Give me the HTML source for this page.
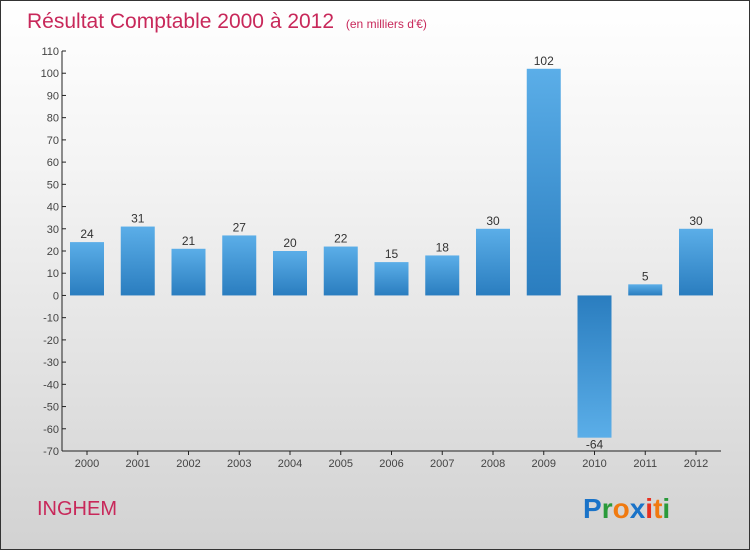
<!DOCTYPE html>
<html><head><meta charset="utf-8"><style>
body{margin:0}
#c{width:748px;height:548px;border:1px solid #333;background:linear-gradient(#ffffff,#f4f4f4 30%,#d2d2d2);position:relative;font-family:"Liberation Sans",sans-serif}
</style></head><body>
<div id="c">
<svg width="748" height="548" id="s">
<defs>
<linearGradient id="gp" x1="0" y1="0" x2="0" y2="1"><stop offset="0" stop-color="#5baee8"/><stop offset="1" stop-color="#2a7dbf"/></linearGradient>
<linearGradient id="gn" x1="0" y1="0" x2="0" y2="1"><stop offset="0" stop-color="#2a7dbf"/><stop offset="1" stop-color="#5baee8"/></linearGradient>
</defs>
<text x="26" y="27" font-size="21" fill="#c8285a">Résultat Comptable 2000 à 2012 <tspan font-size="12" dx="6">(en milliers d'€)</tspan></text>
<text x="36" y="514" font-size="20" fill="#c8285a">INGHEM</text>
<g font-size="28" font-weight="bold" font-family="Liberation Sans,sans-serif">
<text x="582" y="517"><tspan fill="#1a73c8">P</tspan><tspan fill="#2a9a3a">r</tspan><tspan fill="#f07a10">o</tspan><tspan fill="#1a73c8">x</tspan><tspan fill="#e83020">i</tspan><tspan fill="#f07a10">t</tspan><tspan fill="#2a9a3a">i</tspan></text>
</g>
<g id="plot"></g>
</svg>
</div>
<script>
const categories=["2000","2001","2002","2003","2004","2005","2006","2007","2008","2009","2010","2011","2012"];
const values=[24,31,21,27,20,22,15,18,30,102,-64,5,30];
const ticks=[110,100,90,80,70,60,50,40,30,20,10,0,-10,-20,-30,-40,-50,-60,-70];
const NS="http://www.w3.org/2000/svg";
const g=document.getElementById('plot');
const y=v=>50+(110-v)*400/180;
const x=i=>86+i*50.75;
function el(t,a){const e=document.createElementNS(NS,t);for(const k in a)e.setAttribute(k,a[k]);g.appendChild(e);return e;}
let ax=el('line',{x1:61,y1:50,x2:61,y2:450,stroke:'#222'});


let bx=el('line',{x1:61,y1:450,x2:720,y2:450,stroke:'#222'});


ticks.forEach(t=>{
 el('line',{x1:61,y1:y(t),x2:65,y2:y(t),stroke:'#222'});
 const tx=el('text',{x:58,y:y(t)+4,'text-anchor':'end','font-size':11,fill:'#444'});tx.textContent=t;
 
 
});
categories.forEach((c,i)=>{
 const v=values[i],top=Math.min(y(v),y(0)),h=Math.abs(y(v)-y(0));
 const r=el('rect',{x:x(i)-17,y:top,width:34,height:h,fill:v>=0?'url(#gp)':'url(#gn)'});
 
 
 el('line',{x1:x(i),y1:450,x2:x(i),y2:454,stroke:'#222'});
 const l=el('text',{x:x(i),y:466,'text-anchor':'middle','font-size':11,fill:'#444'});l.textContent=c;
 
 
 const vl=el('text',{x:x(i),y:v>=0?y(v)-4:y(v)+11,'text-anchor':'middle','font-size':12,fill:'#333'});vl.textContent=v;
 
 
});
</script>
</body></html>
